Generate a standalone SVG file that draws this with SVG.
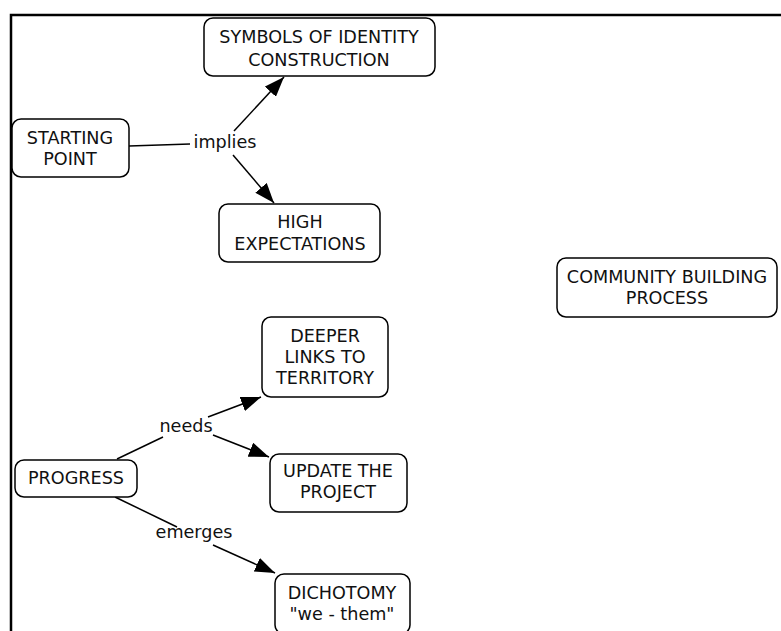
<svg xmlns="http://www.w3.org/2000/svg" width="781" height="631" viewBox="0 0 781 631">
<defs>
<style>
.box{fill:#fff;stroke:#000;stroke-width:1.5}
.t{font-family:"DejaVu Sans",Verdana,sans-serif;font-size:17.6px;fill:#111;text-anchor:middle}
.c{stroke:#000;stroke-width:1.5;fill:none}
.frame{stroke:#000;stroke-width:2.5;fill:none}
</style>
<marker id="ah" viewBox="0 0 20 15" refX="20" refY="7.5" markerWidth="20" markerHeight="15" markerUnits="userSpaceOnUse" orient="auto">
<path d="M0,0 L20,7.5 L0,15 z" fill="#000"/>
</marker>
</defs>
<rect width="781" height="631" fill="#fff"/>
<path class="frame" d="M11,631 V15 H781"/>
<g id="connectors">
<line class="c" x1="129" y1="146" x2="190" y2="144"/>
<line class="c" x1="234" y1="131" x2="284" y2="77" marker-end="url(#ah)"/>
<line class="c" x1="233" y1="155" x2="274" y2="203" marker-end="url(#ah)"/>
<line class="c" x1="117" y1="459" x2="163" y2="437"/>
<line class="c" x1="208" y1="417" x2="261" y2="397" marker-end="url(#ah)"/>
<line class="c" x1="213" y1="435" x2="269" y2="457" marker-end="url(#ah)"/>
<line class="c" x1="115" y1="497" x2="177" y2="527"/>
<line class="c" x1="213" y1="545" x2="275" y2="573" marker-end="url(#ah)"/>
<text class="t" x="225" y="148">implies</text>
<text class="t" x="186" y="432">needs</text>
<text class="t" x="194" y="538">emerges</text>
</g>
<g id="symbols">
<rect class="box" x="204" y="18" width="231" height="58" rx="9"/>
<text class="t" x="319" y="43">SYMBOLS OF IDENTITY</text>
<text class="t" x="319" y="66">CONSTRUCTION</text>
</g>
<g id="starting">
<rect class="box" x="12" y="119" width="117" height="58" rx="9"/>
<text class="t" x="70" y="144">STARTING</text>
<text class="t" x="70" y="165">POINT</text>
</g>
<g id="high">
<rect class="box" x="219" y="204" width="161" height="58" rx="9"/>
<text class="t" x="300" y="228">HIGH</text>
<text class="t" x="300" y="250">EXPECTATIONS</text>
</g>
<g id="community">
<rect class="box" x="557" y="258" width="220" height="59" rx="9"/>
<text class="t" x="667" y="283">COMMUNITY BUILDING</text>
<text class="t" x="667" y="304">PROCESS</text>
</g>
<g id="deeper">
<rect class="box" x="262" y="317" width="126" height="80" rx="9"/>
<text class="t" x="325" y="342">DEEPER</text>
<text class="t" x="325" y="363">LINKS TO</text>
<text class="t" x="325" y="384">TERRITORY</text>
</g>
<g id="update">
<rect class="box" x="270" y="454" width="137" height="58" rx="9"/>
<text class="t" x="338" y="477">UPDATE THE</text>
<text class="t" x="338" y="498">PROJECT</text>
</g>
<g id="progress">
<rect class="box" x="15" y="460" width="122" height="37" rx="9"/>
<text class="t" x="76" y="484">PROGRESS</text>
</g>
<g id="dichotomy">
<rect class="box" x="275" y="574" width="135" height="60" rx="9"/>
<text class="t" x="342" y="599">DICHOTOMY</text>
<text class="t" x="342" y="620">"we - them"</text>
</g>
</svg>
